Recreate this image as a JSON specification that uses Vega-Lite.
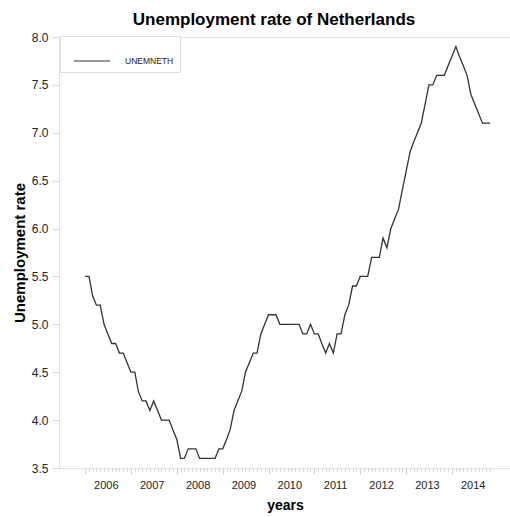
{
  "$schema": "https://vega.github.io/schema/vega-lite/v6.json",
  "width": 452,
  "height": 431,
  "autosize": "none",
  "padding": {"left": 59, "top": 37, "right": 0, "bottom": 49},
  "background": "white",
  "title": {"text": "Unemployment rate of Netherlands", "fontSize": 17, "fontWeight": "bold", "font": "Liberation Sans", "color": "black", "anchor": "middle", "dx": -11, "baseline": "alphabetic", "offset": -11},
  "config": {
    "view": {"stroke": "#e3e3e3"},
    "font": "Liberation Sans"
  },
  "data": {"values": [
    {"date": "2006-01-01", "rate": 5.5, "series": "UNEMNETH"},
    {"date": "2006-02-01", "rate": 5.5, "series": "UNEMNETH"},
    {"date": "2006-03-01", "rate": 5.3, "series": "UNEMNETH"},
    {"date": "2006-04-01", "rate": 5.2, "series": "UNEMNETH"},
    {"date": "2006-05-01", "rate": 5.2, "series": "UNEMNETH"},
    {"date": "2006-06-01", "rate": 5.0, "series": "UNEMNETH"},
    {"date": "2006-07-01", "rate": 4.9, "series": "UNEMNETH"},
    {"date": "2006-08-01", "rate": 4.8, "series": "UNEMNETH"},
    {"date": "2006-09-01", "rate": 4.8, "series": "UNEMNETH"},
    {"date": "2006-10-01", "rate": 4.7, "series": "UNEMNETH"},
    {"date": "2006-11-01", "rate": 4.7, "series": "UNEMNETH"},
    {"date": "2006-12-01", "rate": 4.6, "series": "UNEMNETH"},
    {"date": "2007-01-01", "rate": 4.5, "series": "UNEMNETH"},
    {"date": "2007-02-01", "rate": 4.5, "series": "UNEMNETH"},
    {"date": "2007-03-01", "rate": 4.3, "series": "UNEMNETH"},
    {"date": "2007-04-01", "rate": 4.2, "series": "UNEMNETH"},
    {"date": "2007-05-01", "rate": 4.2, "series": "UNEMNETH"},
    {"date": "2007-06-01", "rate": 4.1, "series": "UNEMNETH"},
    {"date": "2007-07-01", "rate": 4.2, "series": "UNEMNETH"},
    {"date": "2007-08-01", "rate": 4.1, "series": "UNEMNETH"},
    {"date": "2007-09-01", "rate": 4.0, "series": "UNEMNETH"},
    {"date": "2007-10-01", "rate": 4.0, "series": "UNEMNETH"},
    {"date": "2007-11-01", "rate": 4.0, "series": "UNEMNETH"},
    {"date": "2007-12-01", "rate": 3.9, "series": "UNEMNETH"},
    {"date": "2008-01-01", "rate": 3.8, "series": "UNEMNETH"},
    {"date": "2008-02-01", "rate": 3.6, "series": "UNEMNETH"},
    {"date": "2008-03-01", "rate": 3.6, "series": "UNEMNETH"},
    {"date": "2008-04-01", "rate": 3.7, "series": "UNEMNETH"},
    {"date": "2008-05-01", "rate": 3.7, "series": "UNEMNETH"},
    {"date": "2008-06-01", "rate": 3.7, "series": "UNEMNETH"},
    {"date": "2008-07-01", "rate": 3.6, "series": "UNEMNETH"},
    {"date": "2008-08-01", "rate": 3.6, "series": "UNEMNETH"},
    {"date": "2008-09-01", "rate": 3.6, "series": "UNEMNETH"},
    {"date": "2008-10-01", "rate": 3.6, "series": "UNEMNETH"},
    {"date": "2008-11-01", "rate": 3.6, "series": "UNEMNETH"},
    {"date": "2008-12-01", "rate": 3.7, "series": "UNEMNETH"},
    {"date": "2009-01-01", "rate": 3.7, "series": "UNEMNETH"},
    {"date": "2009-02-01", "rate": 3.8, "series": "UNEMNETH"},
    {"date": "2009-03-01", "rate": 3.9, "series": "UNEMNETH"},
    {"date": "2009-04-01", "rate": 4.1, "series": "UNEMNETH"},
    {"date": "2009-05-01", "rate": 4.2, "series": "UNEMNETH"},
    {"date": "2009-06-01", "rate": 4.3, "series": "UNEMNETH"},
    {"date": "2009-07-01", "rate": 4.5, "series": "UNEMNETH"},
    {"date": "2009-08-01", "rate": 4.6, "series": "UNEMNETH"},
    {"date": "2009-09-01", "rate": 4.7, "series": "UNEMNETH"},
    {"date": "2009-10-01", "rate": 4.7, "series": "UNEMNETH"},
    {"date": "2009-11-01", "rate": 4.9, "series": "UNEMNETH"},
    {"date": "2009-12-01", "rate": 5.0, "series": "UNEMNETH"},
    {"date": "2010-01-01", "rate": 5.1, "series": "UNEMNETH"},
    {"date": "2010-02-01", "rate": 5.1, "series": "UNEMNETH"},
    {"date": "2010-03-01", "rate": 5.1, "series": "UNEMNETH"},
    {"date": "2010-04-01", "rate": 5.0, "series": "UNEMNETH"},
    {"date": "2010-05-01", "rate": 5.0, "series": "UNEMNETH"},
    {"date": "2010-06-01", "rate": 5.0, "series": "UNEMNETH"},
    {"date": "2010-07-01", "rate": 5.0, "series": "UNEMNETH"},
    {"date": "2010-08-01", "rate": 5.0, "series": "UNEMNETH"},
    {"date": "2010-09-01", "rate": 5.0, "series": "UNEMNETH"},
    {"date": "2010-10-01", "rate": 4.9, "series": "UNEMNETH"},
    {"date": "2010-11-01", "rate": 4.9, "series": "UNEMNETH"},
    {"date": "2010-12-01", "rate": 5.0, "series": "UNEMNETH"},
    {"date": "2011-01-01", "rate": 4.9, "series": "UNEMNETH"},
    {"date": "2011-02-01", "rate": 4.9, "series": "UNEMNETH"},
    {"date": "2011-03-01", "rate": 4.8, "series": "UNEMNETH"},
    {"date": "2011-04-01", "rate": 4.7, "series": "UNEMNETH"},
    {"date": "2011-05-01", "rate": 4.8, "series": "UNEMNETH"},
    {"date": "2011-06-01", "rate": 4.7, "series": "UNEMNETH"},
    {"date": "2011-07-01", "rate": 4.9, "series": "UNEMNETH"},
    {"date": "2011-08-01", "rate": 4.9, "series": "UNEMNETH"},
    {"date": "2011-09-01", "rate": 5.1, "series": "UNEMNETH"},
    {"date": "2011-10-01", "rate": 5.2, "series": "UNEMNETH"},
    {"date": "2011-11-01", "rate": 5.4, "series": "UNEMNETH"},
    {"date": "2011-12-01", "rate": 5.4, "series": "UNEMNETH"},
    {"date": "2012-01-01", "rate": 5.5, "series": "UNEMNETH"},
    {"date": "2012-02-01", "rate": 5.5, "series": "UNEMNETH"},
    {"date": "2012-03-01", "rate": 5.5, "series": "UNEMNETH"},
    {"date": "2012-04-01", "rate": 5.7, "series": "UNEMNETH"},
    {"date": "2012-05-01", "rate": 5.7, "series": "UNEMNETH"},
    {"date": "2012-06-01", "rate": 5.7, "series": "UNEMNETH"},
    {"date": "2012-07-01", "rate": 5.9, "series": "UNEMNETH"},
    {"date": "2012-08-01", "rate": 5.8, "series": "UNEMNETH"},
    {"date": "2012-09-01", "rate": 6.0, "series": "UNEMNETH"},
    {"date": "2012-10-01", "rate": 6.1, "series": "UNEMNETH"},
    {"date": "2012-11-01", "rate": 6.2, "series": "UNEMNETH"},
    {"date": "2012-12-01", "rate": 6.4, "series": "UNEMNETH"},
    {"date": "2013-01-01", "rate": 6.6, "series": "UNEMNETH"},
    {"date": "2013-02-01", "rate": 6.8, "series": "UNEMNETH"},
    {"date": "2013-03-01", "rate": 6.9, "series": "UNEMNETH"},
    {"date": "2013-04-01", "rate": 7.0, "series": "UNEMNETH"},
    {"date": "2013-05-01", "rate": 7.1, "series": "UNEMNETH"},
    {"date": "2013-06-01", "rate": 7.3, "series": "UNEMNETH"},
    {"date": "2013-07-01", "rate": 7.5, "series": "UNEMNETH"},
    {"date": "2013-08-01", "rate": 7.5, "series": "UNEMNETH"},
    {"date": "2013-09-01", "rate": 7.6, "series": "UNEMNETH"},
    {"date": "2013-10-01", "rate": 7.6, "series": "UNEMNETH"},
    {"date": "2013-11-01", "rate": 7.6, "series": "UNEMNETH"},
    {"date": "2013-12-01", "rate": 7.7, "series": "UNEMNETH"},
    {"date": "2014-01-01", "rate": 7.8, "series": "UNEMNETH"},
    {"date": "2014-02-01", "rate": 7.9, "series": "UNEMNETH"},
    {"date": "2014-03-01", "rate": 7.8, "series": "UNEMNETH"},
    {"date": "2014-04-01", "rate": 7.7, "series": "UNEMNETH"},
    {"date": "2014-05-01", "rate": 7.6, "series": "UNEMNETH"},
    {"date": "2014-06-01", "rate": 7.4, "series": "UNEMNETH"},
    {"date": "2014-07-01", "rate": 7.3, "series": "UNEMNETH"},
    {"date": "2014-08-01", "rate": 7.2, "series": "UNEMNETH"},
    {"date": "2014-09-01", "rate": 7.1, "series": "UNEMNETH"},
    {"date": "2014-10-01", "rate": 7.1, "series": "UNEMNETH"},
    {"date": "2014-11-01", "rate": 7.1, "series": "UNEMNETH"}
  ]},
  "mark": {"type": "line", "strokeWidth": 1.3, "clip": true},
  "encoding": {
    "x": {
      "field": "date", "type": "temporal",
      "scale": {"domain": ["2005-06-07", "2015-04-16"]},
      "axis": {
        "title": "years", "titleFontSize": 14, "titleFontWeight": "bold", "titleColor": "black", "titlePadding": 5,
        "tickCount": {"interval": "month", "step": 1},
        "labelExpr": "month(datum.value) == 6 && year(datum.value) >= 2006 && year(datum.value) <= 2014 ? timeFormat(datum.value, '%Y') : ''",
        "labelOverlap": false, "labelBound": false, "labelFlush": false,
        "labelOffset": -2,
        "labelFontSize": 11, "labelColor": "#222222", "labelPadding": 8,
        "grid": false, "domainColor": "#e3e3e3", "tickColor": "#cfcfcf",
        "tickSize": {"condition": {"test": "month(datum.value) == 0", "value": 6}, "value": 3},
        "tickOpacity": {"condition": {"test": "datum.value < datetime(2006, 0, 1) || datum.value > datetime(2014, 10, 2)", "value": 0}, "value": 1}
      }
    },
    "y": {
      "field": "rate", "type": "quantitative",
      "scale": {"domain": [3.5, 8.0], "nice": false, "zero": false},
      "axis": {
        "title": "Unemployment rate", "titleFontSize": 15, "titleFontWeight": "bold", "titleColor": "black", "titlePadding": 4,
        "values": [3.5, 4.0, 4.5, 5.0, 5.5, 6.0, 6.5, 7.0, 7.5, 8.0],
        "format": ".1f", "labelFontSize": 12, "labelColor": "#222222", "labelPadding": 4,
        "grid": false, "domainColor": "#e3e3e3", "tickColor": "#d8d8d8", "tickSize": 7
      }
    },
    "color": {
      "field": "series", "type": "nominal",
      "scale": {"domain": ["UNEMNETH"], "range": ["#333333"]},
      "legend": {
        "title": null, "orient": "none", "legendX": 1, "legendY": -1,
        "strokeColor": "#dddddd", "fillColor": "white", "padding": 6,
        "symbolType": "stroke", "symbolSize": 1296, "symbolStrokeWidth": 1.2, "symbolOffset": 7,
        "labelOffset": 14, "labelFontSize": 8.5, "labelColor": "#222222"
      }
    }
  }
}
